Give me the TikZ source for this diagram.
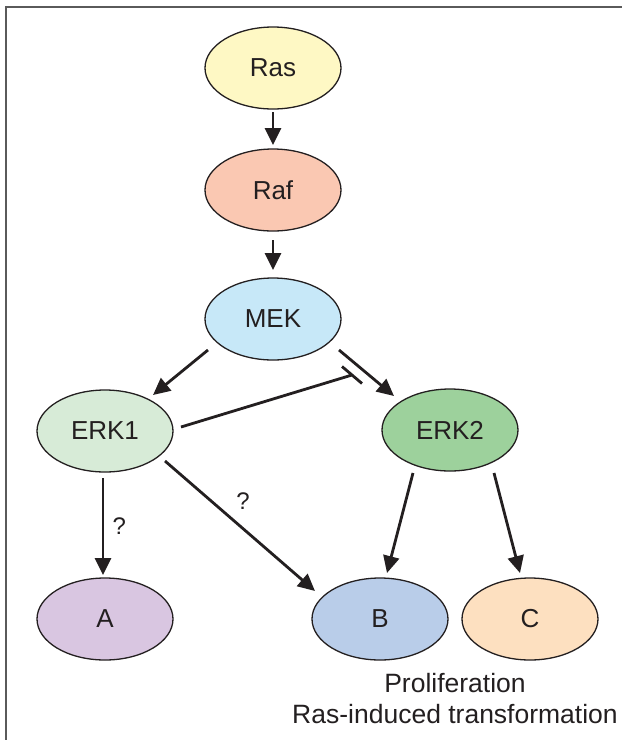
\documentclass[tikz,border=0pt]{standalone}
\usepackage{fontspec}
\setmainfont{Liberation Sans}
\usetikzlibrary{shapes.geometric,arrows.meta,calc}
\definecolor{txt}{HTML}{231F20}
\definecolor{cRas}{HTML}{FEF8C4}
\definecolor{cRaf}{HTML}{FAC8B2}
\definecolor{cMek}{HTML}{C7E8F8}
\definecolor{cErkA}{HTML}{D7EBD7}
\definecolor{cErkB}{HTML}{9DD19C}
\definecolor{cA}{HTML}{D9C6E1}
\definecolor{cB}{HTML}{B9CDE9}
\definecolor{cC}{HTML}{FDE0C0}
\definecolor{frame}{HTML}{5A5A5A}
\tikzset{
  prot/.style={ellipse, draw=txt, line width=1.3pt, minimum width=136pt, minimum height=82pt, inner sep=0pt, font=\fontsize{26}{31}\selectfont, text=txt},
  arr/.style={draw=txt, line width=2.8pt, -{Triangle[length=17pt,width=16pt]}},
  inh/.style={draw=txt, line width=2.8pt},
  qlab/.style={font=\fontsize{24}{28}\selectfont, text=txt},
  note/.style={font=\fontsize{26.5}{31}\selectfont, text=txt}
}
\begin{document}
\begin{tikzpicture}[x=1pt,y=-1pt]
\useasboundingbox (0,0) rectangle (622,740);
\draw[frame, line width=1.8pt] (6,740) -- (6,7) -- (622,7);
\node[prot, fill=cRas] (ras) at (273,68) {Ras};
\node[prot, fill=cRaf] (raf) at (273,190) {Raf};
\node[prot, fill=cMek] (mek) at (273,319) {MEK};
\node[prot, fill=cErkA] (erk1) at (105,431) {ERK1};
\node[prot, fill=cErkB] (erk2) at (450,430) {ERK2};
\node[prot, fill=cA] (a) at (105,619) {A};
\node[prot, fill=cB] (b) at (380,619) {B};
\node[prot, fill=cC] (c) at (530,619) {C};
\draw[arr] ($(ras)+(0,44)$) -- ($(raf)+(0,-45)$);
\draw[arr] ($(raf)+(0,50)$) -- ($(mek)+(0,-49)$);
\draw[arr] ($(mek)+(-65,31)$) -- ($(erk1)+(48,-36)$);
\draw[arr] ($(mek)+(66,31)$) -- ($(erk2)+(-56,-34)$);
\draw[inh] ($(erk1)+(76,-4)$) -- ($(mek)+(79,56)$)
  ($(mek)+(69,47.5)$) -- ($(mek)+(89,64.5)$);
\draw[arr] ($(erk1)+(-2,47)$) -- node[qlab, right=5pt] (q1) {?} ($(a)+(-2,-44)$);
\draw[arr] ($(erk1)+(60,30)$) -- ($(b)+(-65,-28)$);
\node[qlab] (q2) at (243,501) {?};
\draw[arr] ($(erk2)+(-37,43)$) -- ($(b)+(7,-46)$);
\draw[arr] ($(erk2)+(44,43)$) -- ($(c)+(-10,-46)$);
\node[note] (n1) at (455,683) {Proliferation};
\node[note] (n2) at (455,714) {Ras-induced transformation};
\end{tikzpicture}
\end{document}
